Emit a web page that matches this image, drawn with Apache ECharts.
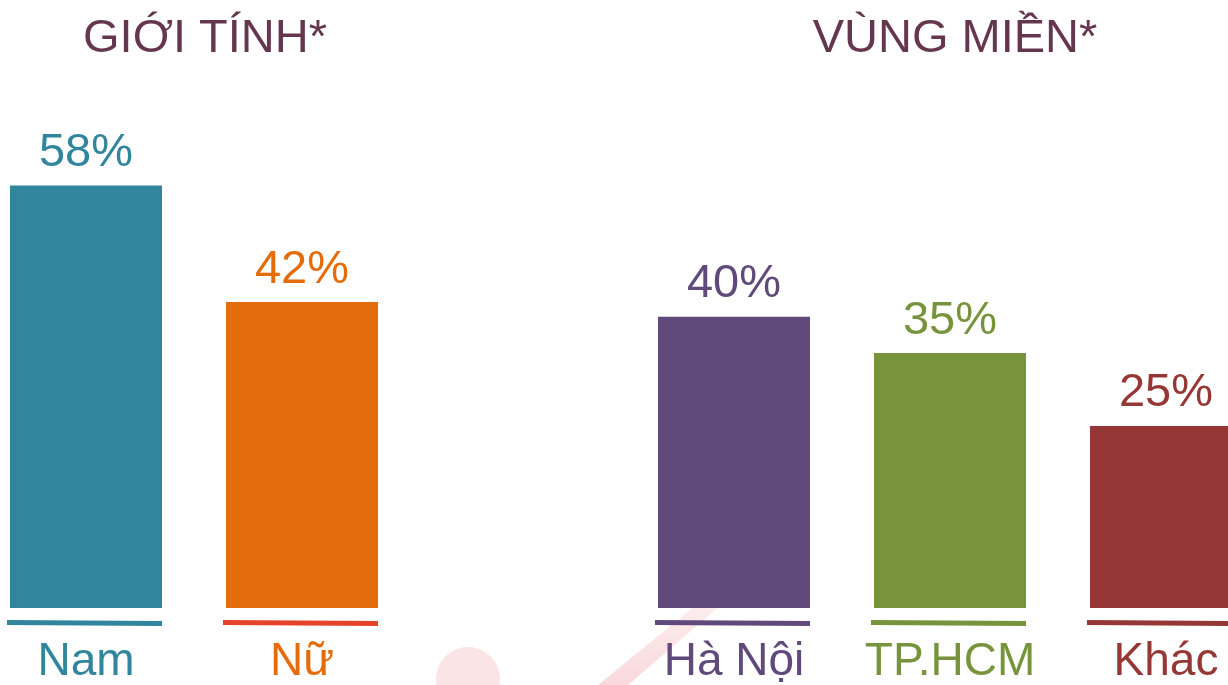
<!DOCTYPE html>
<html>
<head>
<meta charset="utf-8">
<script src="https://cdn.jsdelivr.net/npm/echarts@6/dist/echarts.min.js"></script>
<style>
html,body{margin:0;padding:0;background:#fff;}
#chart{width:1228px;height:685px;}
</style>
</head>
<body>
<div id="chart"></div>
<script>
const categories = ['Nam', 'Nữ', '', 'Hà Nội', 'TP.HCM', 'Khác'];
const values = [58, 42, null, 40, 35, 25];
const barColors = ['#31859C', '#E46C0A', null, '#604A7B', '#77933C', '#953735'];
const lineColors = ['#31859C', '#E5432A', null, '#604A7B', '#77933C', '#953735'];
const titles = ['GIỚI TÍNH*', 'VÙNG MIỀN*'];

const FONT = "'Liberation Sans', Arial, sans-serif";
const chart = echarts.init(document.getElementById('chart'));

const barData = values.map((v, i) => v == null ? null : ({
  value: v,
  itemStyle: { color: barColors[i] },
  label: { color: barColors[i] }
}));

const lineData = values.map((v, i) => v == null ? null : [i, 0]);

chart.setOption({
  animation: false,
  backgroundColor: '#fff',
  title: [
    { text: titles[0], left: 200, top: 11, textAlign: 'center',
      textStyle: { color: '#65374F', fontSize: 47, fontWeight: 'normal', fontFamily: FONT } },
    { text: titles[1], left: 950, top: 11, textAlign: 'center',
      textStyle: { color: '#65374F', fontSize: 47, fontWeight: 'normal', fontFamily: FONT } }
  ],
  graphic: [
    { type: 'circle', z: -10, shape: { cx: 468, cy: 679, r: 32 }, style: { fill: '#FBE4E6' } },
    { type: 'polygon', z: -10, shape: { points: [[712, 592], [736, 592], [628, 685], [598, 685]] },
      style: { fill: new echarts.graphic.LinearGradient(0, 0, 0, 1, [
        { offset: 0, color: '#FDF0F1' }, { offset: 1, color: '#F9D9DC' }]) } }
  ],
  grid: { left: 86, right: 62, top: 171, bottom: 69, containLabel: false },
  xAxis: {
    type: 'category',
    data: categories,
    boundaryGap: false,
    axisLine: { show: false },
    axisTick: { show: false },
    splitLine: { show: false },
    axisLabel: {
      interval: 0,
      margin: 31,
      fontSize: 46,
      fontFamily: FONT,
      color: function (value, index) { return barColors[index] || '#000'; }
    }
  },
  yAxis: {
    type: 'value', min: 0, max: 60, show: false,
    splitLine: { show: false }
  },
  series: [
    {
      type: 'bar',
      data: barData,
      barWidth: 152,
      clip: false,
      z: 3,
      label: {
        show: true, position: 'top', distance: 9,
        fontSize: 47, fontFamily: FONT,
        formatter: '{c}%'
      }
    },
    {
      type: 'custom',
      data: lineData,
      clip: false,
      z: 3,
      renderItem: function (params, api) {
        const idx = api.value(0);
        const p = api.coord([idx, 0]);
        const x0 = p[0] - 79, x1 = p[0] + 76;
        const y = p[1];
        return {
          type: 'polygon',
          shape: { points: [[x0, y + 12], [x1, y + 13], [x1, y + 18], [x0, y + 17]] },
          style: { fill: lineColors[idx] }
        };
      }
    }
  ]
});
</script>
</body>
</html>
